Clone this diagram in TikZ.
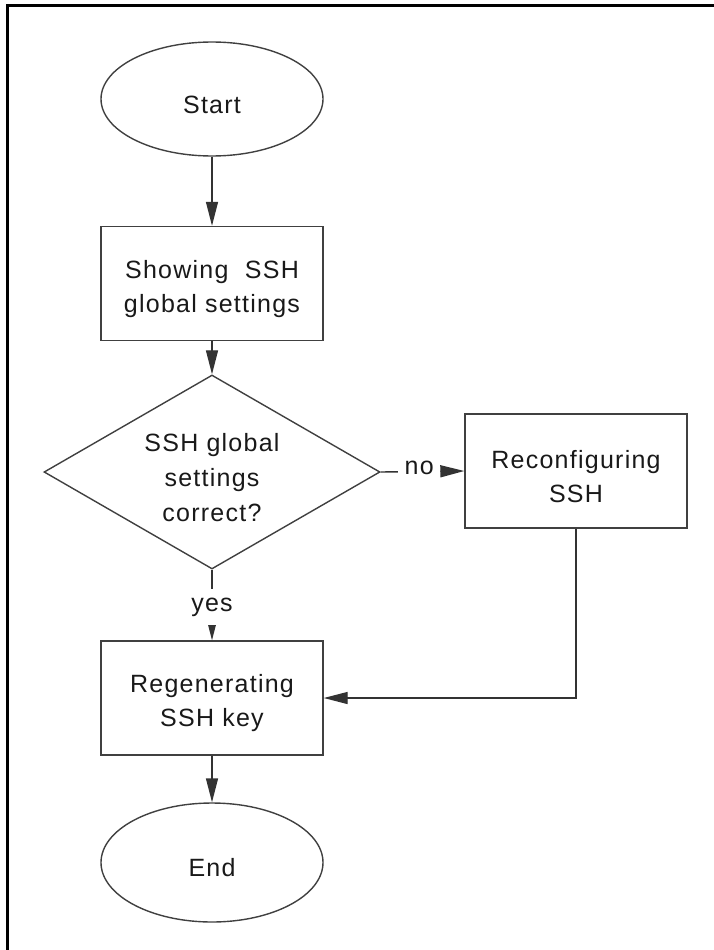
\documentclass[tikz,border=0pt]{standalone}
\usepackage{fontspec}
\setmainfont{Liberation Sans}[LetterSpace=5]
\usetikzlibrary{shapes.geometric,arrows.meta}
\newcommand{\tstrut}{\rule{0pt}{29pt}}
\begin{document}
\begin{tikzpicture}[x=1pt,y=-1pt,
  every node/.style={font=\fontsize{25}{34}\selectfont, text=black!90},
  shp/.style={draw=black!75, line width=1.4pt, align=center, inner sep=0pt},
  term/.style={shp, ellipse, minimum width=222, minimum height=114},
  proc/.style={shp, rectangle, minimum width=222, minimum height=114},
  dec/.style={shp, diamond, minimum width=336, minimum height=194, aspect=1.73,
    font=\fontsize{25}{35}\selectfont},
  conn/.style={draw=black!80, line width=1.4pt},
  arr/.style={conn, -{Triangle[length=24pt,width=12pt]}},
  lbl/.style={fill=white, inner sep=3pt}]
\path[use as bounding box] (0,0) rectangle (714,950);
\coordinate (ftr) at (714,5.5);
\coordinate (ftl) at (7.5,5.5);
\coordinate (fbl) at (7.5,950);
\draw[line width=3.5pt, line join=miter] (ftr) -- (ftl) -- (fbl);

\node[term] (start) at (212,99) {\tstrut Start};
\node[proc] (show) at (212,283.5) {\tstrut Showing\ \ SSH\\global settings};
\node[dec] (chk) at (212,472) {\tstrut SSH global\\settings\\correct?};
\node[proc] (reconf) at (576,471) {\tstrut Reconfiguring\\SSH};
\node[proc] (regen) at (212,698) {\tstrut Regenerating\\SSH key};
\node[term, minimum height=119] (end) at (212,862.5) {\tstrut End};

\draw[arr] (start) -- (show);
\draw[arr] (show) -- (chk);
\draw[arr] (chk.south) -- node[lbl, pos=0.53, minimum height=36] (yes) {yes} (regen.north);
\draw[arr] (chk.east) -- node[lbl, pos=0.46, minimum width=42, yshift=4] (no) {no} (reconf.west);
\draw[arr] (reconf.south) |- (regen.east);
\draw[arr] (regen) -- (end);
\end{tikzpicture}
\end{document}
